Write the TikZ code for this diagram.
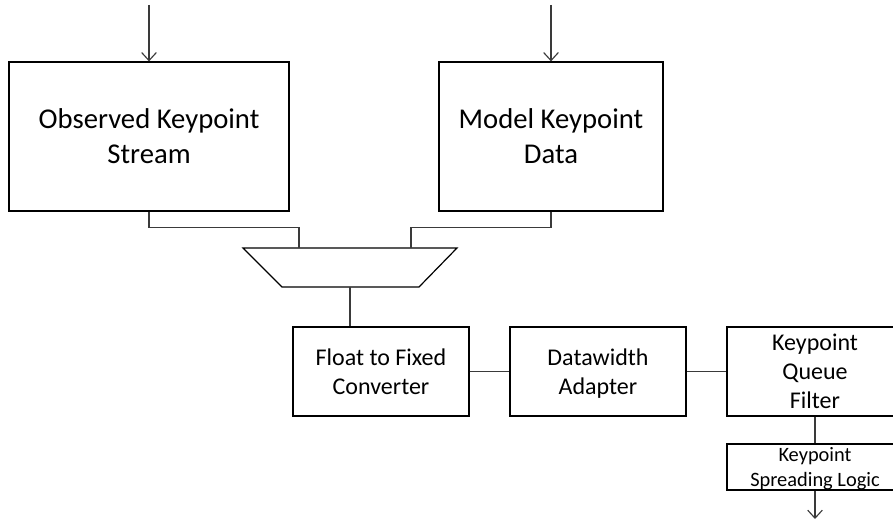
\documentclass[tikz,border=0pt]{standalone}
\usepackage{fontspec}
\setmainfont{Carlito}
\usepackage{tikz}
\usetikzlibrary{arrows.meta,positioning}
\definecolor{wiregray}{HTML}{3A3A3A}
\newcommand{\nodepth}[1]{\raisebox{0pt}[\height][0pt]{#1}}

\begin{document}
\begin{tikzpicture}[x=0.75pt, y=-0.75pt,
    block/.style={draw=black, line width=0.9pt, inner sep=0pt, align=center},
    bigblock/.style={block, minimum height=111.75pt, font=\fontsize{21.5}{26.25}\selectfont},
    midblock/.style={block, minimum width=132pt, minimum height=66.75pt, font=\fontsize{18}{21.75}\selectfont},
    wire/.style={draw=wiregray, line width=0.85pt},
    inarrow/.style={wire, -{Straight Barb[length=6pt, width=11pt]}}]
    \clip (0,0) rectangle (893,520);

    % Input blocks
    \node[bigblock, minimum width=210pt] (obs) at (149,136.5) {Observed Keypoint\\Stream};
    \node[bigblock, minimum width=168pt] (model) at (551,136.5) {Model Keypoint\\Data};
    \coordinate (obsin) at (149,5);
    \coordinate (modelin) at (551,5);
    \draw[inarrow] (obsin) -- (obs.north);
    \draw[inarrow] (modelin) -- (model.north);

    % Multiplexer
    \draw[draw=black, line width=0.9pt] (243,248) -- (457,248) -- (419,287) -- (282,287) -- cycle;
    \coordinate (muxinA) at (299,248);
    \coordinate (muxinB) at (411,248);
    \coordinate (muxout) at (350,287);
    \draw[wire] (obs.south) -- ++(0,16) -| (muxinA);
    \draw[wire] (model.south) -- ++(0,16) -| (muxinB);

    % Processing chain
    \node[midblock] (conv) at (381,371.5) {Float to Fixed\\Converter};
    \node[midblock] (adapt) at (598,371.5) {Datawidth\\\nodepth{Adapter}};
    \node[midblock] (filt) at (815,371.5) {Keypoint\\Queue\\Filter};
    \node[block, minimum width=132pt, minimum height=34.5pt, font=\fontsize{15.3}{18.75}\selectfont] (spread) at (815,467) {Keypoint\\\nodepth{Spreading Logic}};
    \coordinate (out) at (815,519);

    \draw[wire] (muxout) -- (muxout |- conv.north);
    \draw[wire] (conv.east) -- (adapt.west);
    \draw[wire] (adapt.east) -- (filt.west);
    \draw[wire] (filt.south) -- (spread.north);
    \draw[inarrow] (spread.south) -- (out);
\end{tikzpicture}
\end{document}
